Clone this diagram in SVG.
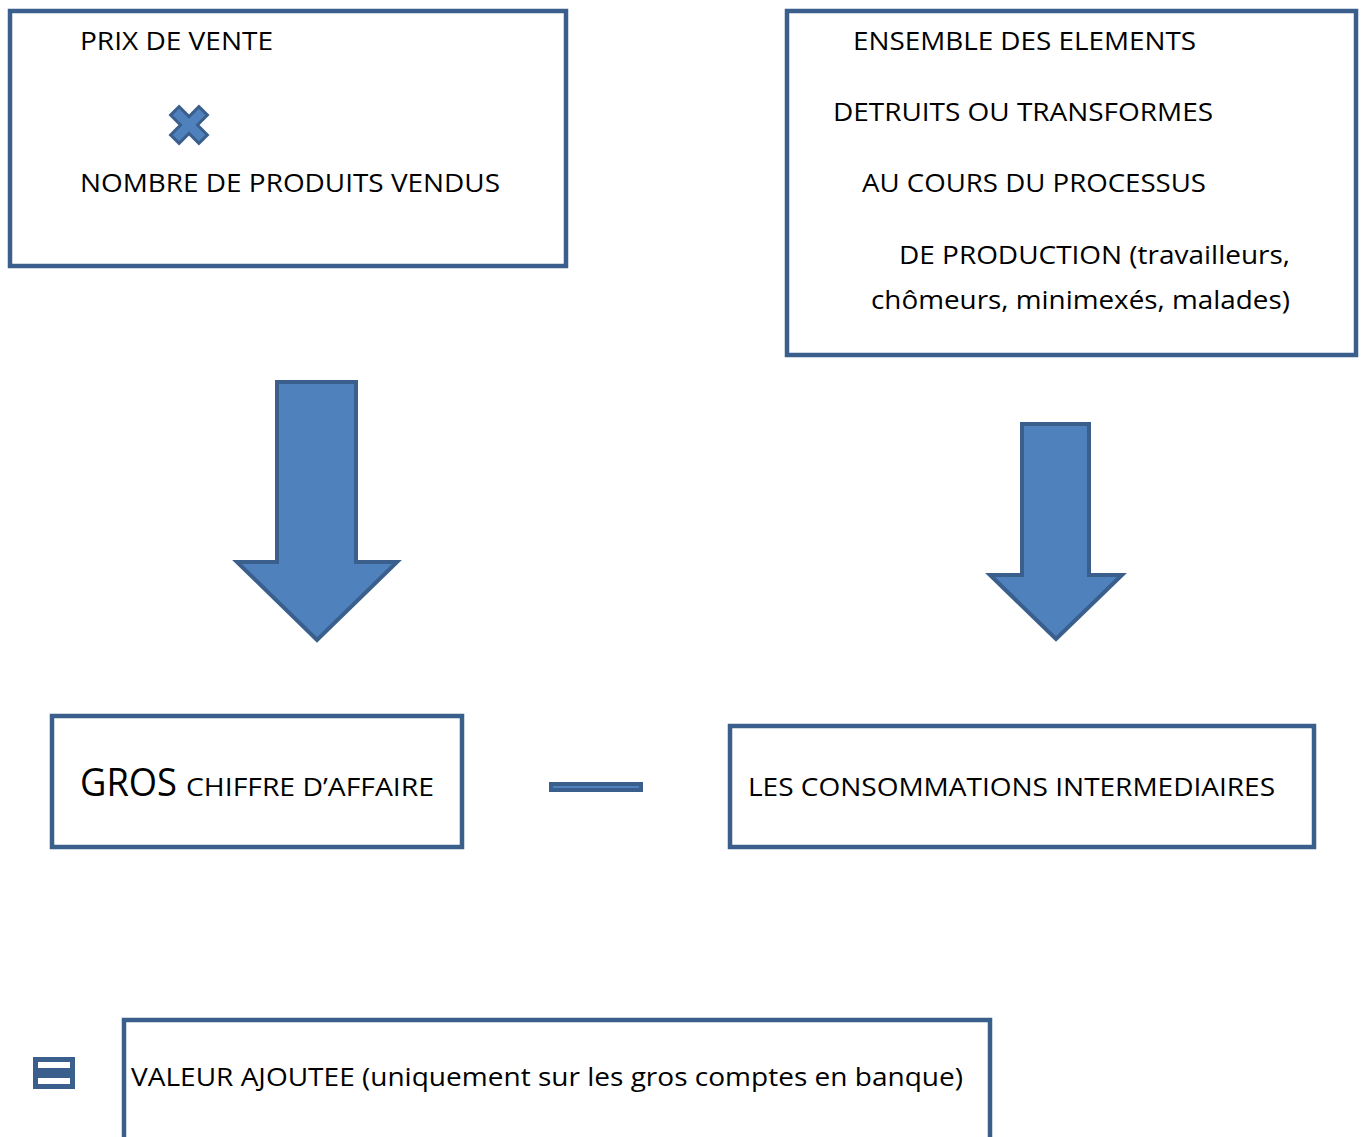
<svg xmlns="http://www.w3.org/2000/svg" width="1366" height="1137" viewBox="0 0 1366 1137">
<style>
.box{fill:#ffffff;stroke:#3a5f8c;stroke-width:4.5}
.shape{fill:#4f81bd;stroke:#3a5f8c;stroke-width:4;stroke-linejoin:miter}
.t{font-family:"Open Sans","Noto Sans","Liberation Sans",sans-serif;font-size:26px;fill:#000000}
.big{font-size:39px}
</style>
<rect width="1366" height="1137" fill="#ffffff"/>
<g id="node-prix">
<rect class="box" x="10" y="11" width="556" height="255"/>
<text class="t" x="80" y="50" textLength="193" lengthAdjust="spacingAndGlyphs">PRIX DE VENTE</text>
<path class="shape" style="stroke-width:3" transform="translate(189,125) rotate(45)" d="M-6,-20 H6 V-6 H20 V6 H6 V20 H-6 V6 H-20 V-6 H-6 Z"/>
<text class="t" x="80" y="192" textLength="420" lengthAdjust="spacingAndGlyphs">NOMBRE DE PRODUITS VENDUS</text>
</g>
<g id="node-ensemble">
<rect class="box" x="787" y="11" width="569" height="344"/>
<text class="t" x="853" y="50" textLength="343" lengthAdjust="spacingAndGlyphs">ENSEMBLE DES ELEMENTS</text>
<text class="t" x="833" y="121" textLength="380" lengthAdjust="spacingAndGlyphs">DETRUITS OU TRANSFORMES</text>
<text class="t" x="862" y="192" textLength="344" lengthAdjust="spacingAndGlyphs">AU COURS DU PROCESSUS</text>
<text class="t" x="899" y="264" textLength="391" lengthAdjust="spacingAndGlyphs">DE PRODUCTION (travailleurs,</text>
<text class="t" x="871" y="309" textLength="419" lengthAdjust="spacingAndGlyphs">chômeurs, minimexés, malades)</text>
</g>
<g id="connectors">
<path id="arrow-left" class="shape" d="M277,382 H356 V562 H397 L317,640 L237,562 H277 Z"/>
<path id="arrow-right" class="shape" d="M1022,424 H1089 V575 H1122 L1056,639 L990,575 H1022 Z"/>
</g>
<g id="node-gros">
<rect class="box" x="52" y="716" width="410" height="131"/>
<text class="t big" x="80" y="796" textLength="97" lengthAdjust="spacingAndGlyphs">GROS</text>
<text class="t" x="186" y="796" textLength="248" lengthAdjust="spacingAndGlyphs">CHIFFRE D’AFFAIRE</text>
</g>
<g id="op-minus">
<rect class="shape" x="551" y="784" width="90" height="6"/>
</g>
<g id="node-consommations">
<rect class="box" x="730" y="726" width="584" height="121"/>
<text class="t" x="748" y="796" textLength="527" lengthAdjust="spacingAndGlyphs">LES CONSOMMATIONS INTERMEDIAIRES</text>
</g>
<g id="op-equals">
<rect x="35.5" y="1059.5" width="37" height="11" fill="#ffffff" stroke="#3a5f8c" stroke-width="5"/>
<rect x="35.5" y="1075.5" width="37" height="11" fill="#ffffff" stroke="#3a5f8c" stroke-width="5"/>
</g>
<g id="node-valeur">
<rect class="box" x="124" y="1020" width="866" height="140"/>
<text class="t" x="131" y="1086" textLength="832" lengthAdjust="spacingAndGlyphs">VALEUR AJOUTEE (uniquement sur les gros comptes en banque)</text>
</g>
</svg>
